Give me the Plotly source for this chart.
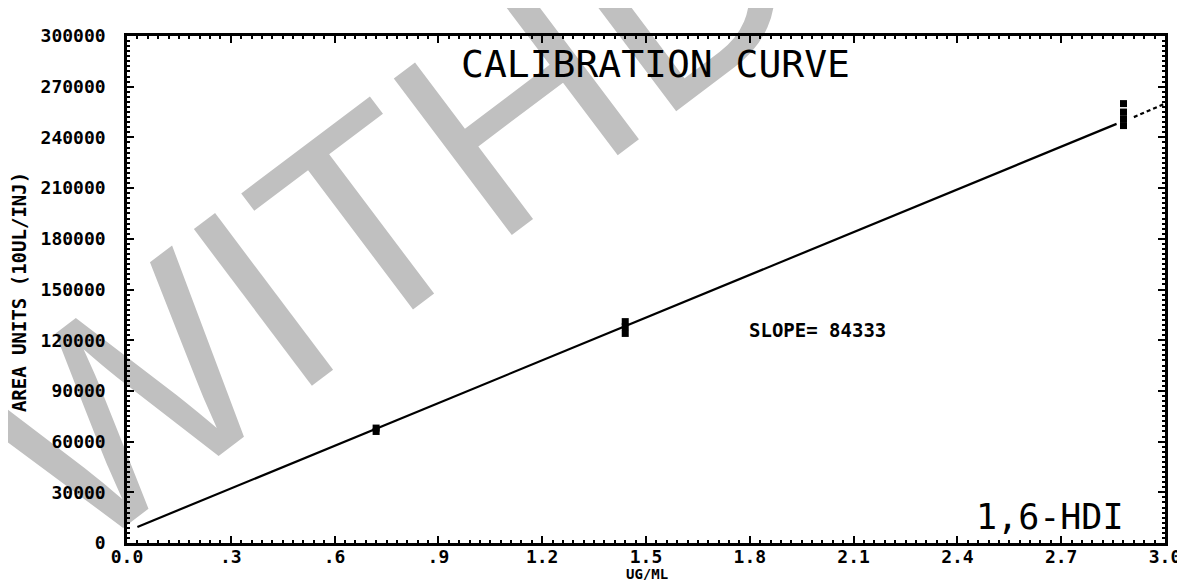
import plotly.graph_objects as go

# ---- data ----
conc = [0.72, 0.72, 1.44, 1.44, 1.44, 2.88, 2.88, 2.88, 2.88]
area = [66000, 68000, 124000, 128000, 131000, 247000, 251000, 255000, 260000]

fit_x = [0.03, 2.86]
fit_y = [9500, 248000]
fit_ext_x = [2.91, 3.0]
fit_ext_y = [252000, 260000]

x_tickvals = [0, 0.3, 0.6, 0.9, 1.2, 1.5, 1.8, 2.1, 2.4, 2.7, 3.0]
x_ticktext = ["0.0", ".3", ".6", ".9", "1.2", "1.5", "1.8", "2.1", "2.4", "2.7", "3.0"]
y_tickvals = [0, 30000, 60000, 90000, 120000, 150000, 180000, 210000, 240000, 270000, 300000]
y_ticktext = [str(v) for v in y_tickvals]

slope_text = "SLOPE= 84333"
title_text = "CALIBRATION CURVE"
compound_text = "1,6-HDI"
watermark_text = "WITHDRAWN"

MONO = "DejaVu Sans Mono"

fig = go.Figure()
fig.add_trace(go.Scatter(x=fit_x, y=fit_y, mode="lines",
                         line=dict(color="black", width=2.2), showlegend=False))
fig.add_trace(go.Scatter(x=fit_ext_x, y=fit_ext_y, mode="lines",
                         line=dict(color="black", width=2.2, dash="4px,3px"), showlegend=False))
fig.add_trace(go.Scatter(x=conc, y=area, mode="markers",
                         marker=dict(symbol="square", size=7, color="black"), showlegend=False))

tickfont = dict(family=MONO, size=18, color="black", weight="bold")

fig.update_xaxes(range=[0, 3.0], tickvals=x_tickvals, ticktext=x_ticktext,
                 showgrid=False, zeroline=False, showline=True, linecolor="black",
                 linewidth=2.5, mirror="ticks", ticks="inside", ticklen=7,
                 tickwidth=2, tickcolor="black", tickfont=tickfont, ticklabelstandoff=-4,
                 minor=dict(ticks="inside", dtick=0.03, ticklen=3, tickwidth=1.5,
                            tickcolor="black", showgrid=False))
fig.update_yaxes(range=[0, 300000], tickvals=y_tickvals, ticktext=y_ticktext,
                 showgrid=False, zeroline=False, showline=True, linecolor="black",
                 linewidth=2.5, mirror="ticks", ticks="inside", ticklen=7,
                 tickwidth=2, tickcolor="black", tickfont=tickfont, ticklabelstandoff=15,
                 minor=dict(ticks="inside", dtick=3000, ticklen=3, tickwidth=1.5,
                            tickcolor="black", showgrid=False))

annotations = [
    dict(text=title_text, x=0.509, y=0.945, xref="paper", yref="paper",
         showarrow=False, xanchor="center", yanchor="middle",
         font=dict(family=MONO, size=38, color="black")),
    dict(text=compound_text, x=0.889, y=0.052, xref="paper", yref="paper",
         showarrow=False, xanchor="center", yanchor="middle",
         font=dict(family=MONO, size=35, color="black")),
    dict(text=slope_text, x=0.665, y=0.420, xref="paper", yref="paper",
         showarrow=False, xanchor="center", yanchor="middle",
         font=dict(family=MONO, size=19, color="black", weight="bold")),
    dict(text="AREA UNITS (10UL/INJ)", x=-0.104, y=0.495, xref="paper", yref="paper",
         showarrow=False, xanchor="center", yanchor="middle", textangle=-90,
         font=dict(family=MONO, size=19, color="black", weight="bold")),
    dict(text="UG/ML", x=0.501, y=-0.061, xref="paper", yref="paper",
         showarrow=False, xanchor="center", yanchor="middle",
         font=dict(family=MONO, size=14, color="black", weight="bold")),
]

fig.update_layout(
    width=1185, height=580,
    margin=dict(l=119, r=26, t=28, b=45),
    paper_bgcolor="white", plot_bgcolor="rgba(0,0,0,0)",
    annotations=annotations,
    shapes=[dict(type="rect", xref="paper", yref="paper",
                 x0=0.563, x1=0.573, y0=1.218, y1=1.228, layer="below",
                 line=dict(width=0), fillcolor="rgba(0,0,0,0)",
                 label=dict(text=watermark_text, textangle=-37, textposition="middle center",
                            font=dict(family="Liberation Sans", size=285, color="#c0c0c0")))],
)

fig.write_html("out.html")
